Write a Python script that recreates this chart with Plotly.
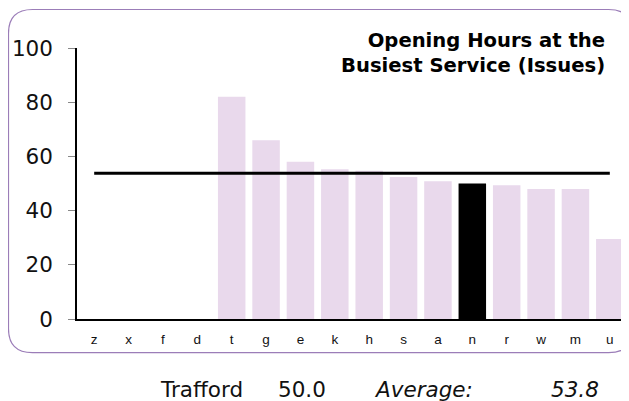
import plotly.graph_objects as go

categories = ["z", "x", "f", "d", "t", "g", "e", "k", "h", "s", "a", "n", "r", "w", "m", "u"]
values = [None, None, None, None, 82, 66, 58, 55.3, 54.7, 52.4, 50.8, 50.0, 49.4, 48.0, 48.0, 29.5]
highlight = "n"
average = 53.8
area_name = "Trafford"
area_value = 50.0
title_lines = ["Opening Hours at the", "Busiest Service (Issues)"]
y_ticks = [0, 20, 40, 60, 80, 100]

# the page is rendered with an 8px body margin; positions below are in page pixels
OFF = 8
W, H = 629 - OFF, 401 - OFF
PL, PR, PT, PB = 77, 627, 48, 319
L, R, T = PL - OFF, (629 - PR), PT - OFF
B = H - (PB - OFF)
pw, ph = W - L - R, H - T - B

def px(x):
    return (x - PL) / pw

def py(y):
    return (PB - y) / ph

bar_colors = ["#000000" if c == highlight else "#E9D9EC" for c in categories]

fig = go.Figure()
fig.add_trace(go.Bar(x=categories, y=values, marker=dict(color=bar_colors, line=dict(width=0)),
                     hoverinfo="x+y"))
fig.add_trace(go.Scatter(x=[categories[0], categories[-1]], y=[average, average], mode="lines",
                         line=dict(color="#000000", width=3), hoverinfo="skip"))

# rounded border
x0, x1, y0, y1, r = 8.5, 632.6, 9.5, 352.7, 24
def P(x, y):
    return f"{px(x):.5f},{py(y):.5f}"
path = (f"M {P(x0 + r, y0)} L {P(x1 - r, y0)} Q {P(x1, y0)} {P(x1, y0 + r)} "
        f"L {P(x1, y1 - r)} Q {P(x1, y1)} {P(x1 - r, y1)} "
        f"L {P(x0 + r, y1)} Q {P(x0, y1)} {P(x0, y1 - r)} "
        f"L {P(x0, y0 + r)} Q {P(x0, y0)} {P(x0 + r, y0)} Z")
fig.add_shape(type="path", xref="paper", yref="paper", path=path,
              line=dict(color="#9B7DB8", width=1.2), layer="below")

font = "DejaVu Sans, Verdana, sans-serif"
fig.add_annotation(xref="paper", yref="paper", x=px(607), y=py(52.5), xanchor="right", yanchor="middle",
                   text="<b>" + "<br>".join(title_lines) + "</b>", align="right", showarrow=False,
                   font=dict(family=font, size=19.6, color="#000000"))

ann_y = py(389)
bf = dict(family=font, size=21.5, color="#111111")
fig.add_annotation(xref="paper", yref="paper", x=px(158), y=ann_y, xanchor="left", yanchor="middle",
                   text=area_name, showarrow=False, font=bf)
fig.add_annotation(xref="paper", yref="paper", x=px(276), y=ann_y, xanchor="left", yanchor="middle",
                   text=f"{area_value:.1f}", showarrow=False, font=bf)
fig.add_annotation(xref="paper", yref="paper", x=px(372), y=ann_y, xanchor="left", yanchor="middle",
                   text="<i>Average:</i>", showarrow=False, font=bf)
fig.add_annotation(xref="paper", yref="paper", x=px(601), y=ann_y, xanchor="right", yanchor="middle",
                   text=f"<i>{average:.1f}</i>", showarrow=False, font=bf)

fig.update_layout(
    width=W, height=H, margin=dict(l=L, r=R, t=T, b=B, pad=0),
    paper_bgcolor="white", plot_bgcolor="white", showlegend=False, bargap=0.2,
    xaxis=dict(type="category", categoryorder="array", categoryarray=categories,
               range=[-0.5, len(categories) - 0.5], showline=True, linecolor="#000000", linewidth=1.5,
               ticks="", showgrid=False, zeroline=False, ticklabelstandoff=7,
               tickfont=dict(family="Liberation Sans, Arial, sans-serif", size=13.5, color="#111111")),
    yaxis=dict(range=[0, 100], tickvals=y_ticks, showline=True, linecolor="#000000", linewidth=1.5,
               ticks="outside", ticklen=7, tickcolor="#888888", showgrid=False, zeroline=False,
               ticklabelstandoff=11,
               tickfont=dict(family=font, size=21.5, color="#111111")),
)
fig.write_html("out.html")
